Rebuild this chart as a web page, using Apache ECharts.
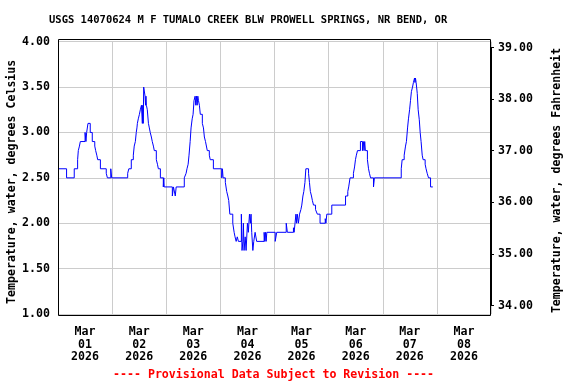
<!DOCTYPE html>
<html>
<head>
<meta charset="utf-8">
<script src="https://cdn.jsdelivr.net/npm/echarts@6/dist/echarts.min.js"></script>
<style>
html,body{margin:0;padding:0;background:#fff;}
#chart{width:576px;height:384px;}
</style>
</head>
<body>
<div id="chart"></div>
<script>
// Hours since 2026-03-01 00:00 at which the reading changes
var hours = [
  0,3.8,7.2,8.7,9.0,9.5,9.9,12.0,12.4,12.7,13.3,14.3,15.2,16.3,16.7,17.2,17.6,18.8,21.4,21.9,23.4,23.8,
  30.9,31.4,32.5,33.4,33.8,34.3,34.5,34.7,35.0,35.2,35.6,36.1,36.5,37.0,37.4,37.6,37.8,38.0,38.6,38.8,39.0,39.2,39.6,40.1,40.5,40.9,41.4,41.8,42.3,42.7,43.6,44.1,44.5,45.4,
  46.7,46.9,47.1,50.7,51.2,52.0,52.4,
  56.0,56.8,57.2,57.7,58.1,58.6,59.0,59.5,59.9,60.3,60.8,61.1,61.4,61.7,62.0,62.3,62.7,63.1,64.0,64.5,64.9,65.4,66.2,67.1,67.5,68.9,
  72.6,72.9,73.2,
  74.2,74.8,75.3,75.7,76.2,77.5,78.1,78.5,79.0,79.5,80.0,
  81.3,81.6,82.0,82.2,82.5,83.0,83.4,84.0,84.4,84.9,85.3,85.6,85.9,86.4,86.8,87.4,88.1,
  91.4,91.7,92.0,92.3,92.6,96.3,97.0,101.2,101.7,104.4,104.7,105.1,105.5,105.8,106.1,106.6,107.1,107.7,108.1,108.6,109.0,109.5,109.9,111.1,111.5,111.9,112.4,112.8,113.3,114.2,115.0,116.2,118.5,118.8,119.2,121.4,
  127.5,128.5,128.9,129.5,131.0,131.5,131.9,132.3,132.8,134.1,135.0,135.4,135.7,136.0,136.3,137.2,137.7,138.1,138.6,139.9,140.3,
  152.2,152.6,153.5,154.1,154.5,155.0,155.4,155.9,156.3,156.7,157.2,157.6,158.1,158.3,158.5,158.8,159.3,159.7,160.2,160.6,161.0,161.5,161.9,162.8,163.2,163.7,164.3,165.2,166.2
];
// Water temperature, degrees Celsius
var tempC = [
  2.6,2.5,2.6,2.7,2.8,2.85,2.9,3.0,2.9,3.0,3.1,3.0,2.9,2.85,2.8,2.75,2.7,2.6,2.55,2.5,2.6,2.5,
  2.55,2.6,2.7,2.75,2.85,2.9,2.95,3.0,3.05,3.1,3.15,3.2,3.25,3.3,3.1,3.3,3.1,3.5,3.4,3.3,3.4,3.3,3.25,3.1,3.05,3.0,2.95,2.9,2.85,2.8,2.7,2.65,2.6,2.5,
  2.4,2.5,2.4,2.3,2.4,2.3,2.4,
  2.5,2.55,2.6,2.65,2.75,2.9,3.05,3.15,3.2,3.35,3.4,3.3,3.4,3.3,3.4,3.35,3.3,3.2,3.1,3.05,2.95,2.9,2.8,2.75,2.7,2.6,
  2.5,2.6,2.5,
  2.45,2.35,2.3,2.25,2.1,2.0,1.9,1.85,1.8,1.85,1.8,
  2.1,1.7,1.8,2.0,1.7,1.85,1.7,2.0,1.9,2.1,2.0,2.1,1.9,1.7,1.8,1.9,1.8,
  1.9,1.8,1.9,1.8,1.9,1.8,1.9,2.0,1.9,1.95,1.9,2.0,2.1,2.0,2.1,2.0,2.1,2.15,2.2,2.3,2.35,2.45,2.6,2.55,2.45,2.35,2.3,2.25,2.2,2.15,2.1,2.0,2.05,2.0,2.1,2.2,
  2.3,2.35,2.4,2.5,2.55,2.62,2.7,2.75,2.8,2.9,2.8,2.9,2.8,2.9,2.8,2.7,2.6,2.55,2.5,2.4,2.5,
  2.6,2.7,2.75,2.85,2.9,3.05,3.15,3.25,3.35,3.45,3.5,3.55,3.6,3.55,3.6,3.55,3.43,3.25,3.14,3.0,2.9,2.75,2.7,2.65,2.6,2.55,2.5,2.4,2.4
];
var dayLabels = ['Mar\n01\n2026','Mar\n02\n2026','Mar\n03\n2026','Mar\n04\n2026','Mar\n05\n2026','Mar\n06\n2026','Mar\n07\n2026','Mar\n08\n2026'];
var celsiusTicks = {min: 1, max: 4, step: 0.5};
var fahrenheitTicks = {min: 34, max: 39, step: 1};
var titleText = 'USGS 14070624 M F TUMALO CREEK BLW PROWELL SPRINGS, NR BEND, OR';
var footerText = '---- Provisional Data Subject to Revision ----';

var FONT = 'DejaVu Sans Mono';
var seriesData = hours.map(function (h, i) { return [h, tempC[i]]; });

var chart = echarts.init(document.getElementById('chart'), null, {renderer: 'canvas'});
chart.setOption({
  animation: false,
  backgroundColor: '#ffffff',
  title: [
    {text: titleText, left: 49, top: 15, padding: 0, textStyle: {fontFamily: FONT, fontWeight: 'bold', fontSize: 10.5, color: '#000'}},
    {text: footerText, left: 113, top: 369, padding: 0, textStyle: {fontFamily: FONT, fontWeight: 'bold', fontSize: 11.6, color: '#ff0000'}}
  ],
  grid: [
    {left: 58, top: 41.7, width: 433, height: 272.3, show: false, containLabel: false, outerBoundsMode: 'none'},
    {left: 58, top: 47.5, width: 433, height: 258, show: false, containLabel: false, outerBoundsMode: 'none'}
  ],
  xAxis: [
    {type: 'value', gridIndex: 0, min: 0, max: 192, interval: 24,
     axisLine: {show: false}, axisTick: {show: false}, axisLabel: {show: false},
     splitLine: {show: true, lineStyle: {color: '#cccccc', width: 1}}},
    {type: 'category', gridIndex: 0, position: 'bottom', data: dayLabels, boundaryGap: true,
     axisLine: {show: false}, axisTick: {show: false}, splitLine: {show: false},
     axisLabel: {interval: 0, margin: 12, fontFamily: FONT, fontWeight: 'bold', fontSize: 11.6, lineHeight: 12.5, color: '#000'}},
    {type: 'value', gridIndex: 1, min: 0, max: 192, show: false}
  ],
  yAxis: [
    {type: 'value', gridIndex: 0, min: celsiusTicks.min, max: celsiusTicks.max, interval: celsiusTicks.step,
     axisLine: {show: false}, axisTick: {show: false},
     splitLine: {show: true, lineStyle: {color: '#cccccc', width: 1}},
     axisLabel: {margin: 8, fontFamily: FONT, fontWeight: 'bold', fontSize: 11.6, color: '#000',
                 formatter: function (v) { return v.toFixed(2); }},
     name: 'Temperature, water, degrees Celsius', nameLocation: 'middle', nameGap: 40, nameMoveOverlap: false,
     nameTextStyle: {fontFamily: FONT, fontWeight: 'bold', fontSize: 11.6, color: '#000', padding: [0, 8, 0, 0]}},
    {type: 'value', gridIndex: 1, position: 'right', min: fahrenheitTicks.min, max: fahrenheitTicks.max, interval: fahrenheitTicks.step,
     axisLine: {show: true, onZero: false, lineStyle: {color: '#000', width: 1}},
     axisTick: {show: true, inside: false, length: 3, lineStyle: {color: '#000'}},
     splitLine: {show: false},
     axisLabel: {margin: 7, fontFamily: FONT, fontWeight: 'bold', fontSize: 11.6, color: '#000',
                 formatter: function (v) { return v.toFixed(2); }},
     name: 'Temperature, water, degrees Fahrenheit', nameLocation: 'middle', nameGap: 60, nameRotate: 90, nameMoveOverlap: false,
     nameTextStyle: {fontFamily: FONT, fontWeight: 'bold', fontSize: 11.6, color: '#000', padding: [0, 8, 0, 0]}}
  ],
  graphic: [
    {type: 'rect', z: 100, silent: true, shape: {x: 58.5, y: 39.5, width: 432, height: 276},
     style: {fill: 'none', stroke: '#000', lineWidth: 1}}
  ],
  series: [
    {type: 'line', xAxisIndex: 0, yAxisIndex: 0, data: seriesData, step: 'end',
     showSymbol: false, symbol: 'none', lineStyle: {color: '#0000ff', width: 1}, z: 5}
  ]
});
</script>
</body>
</html>
